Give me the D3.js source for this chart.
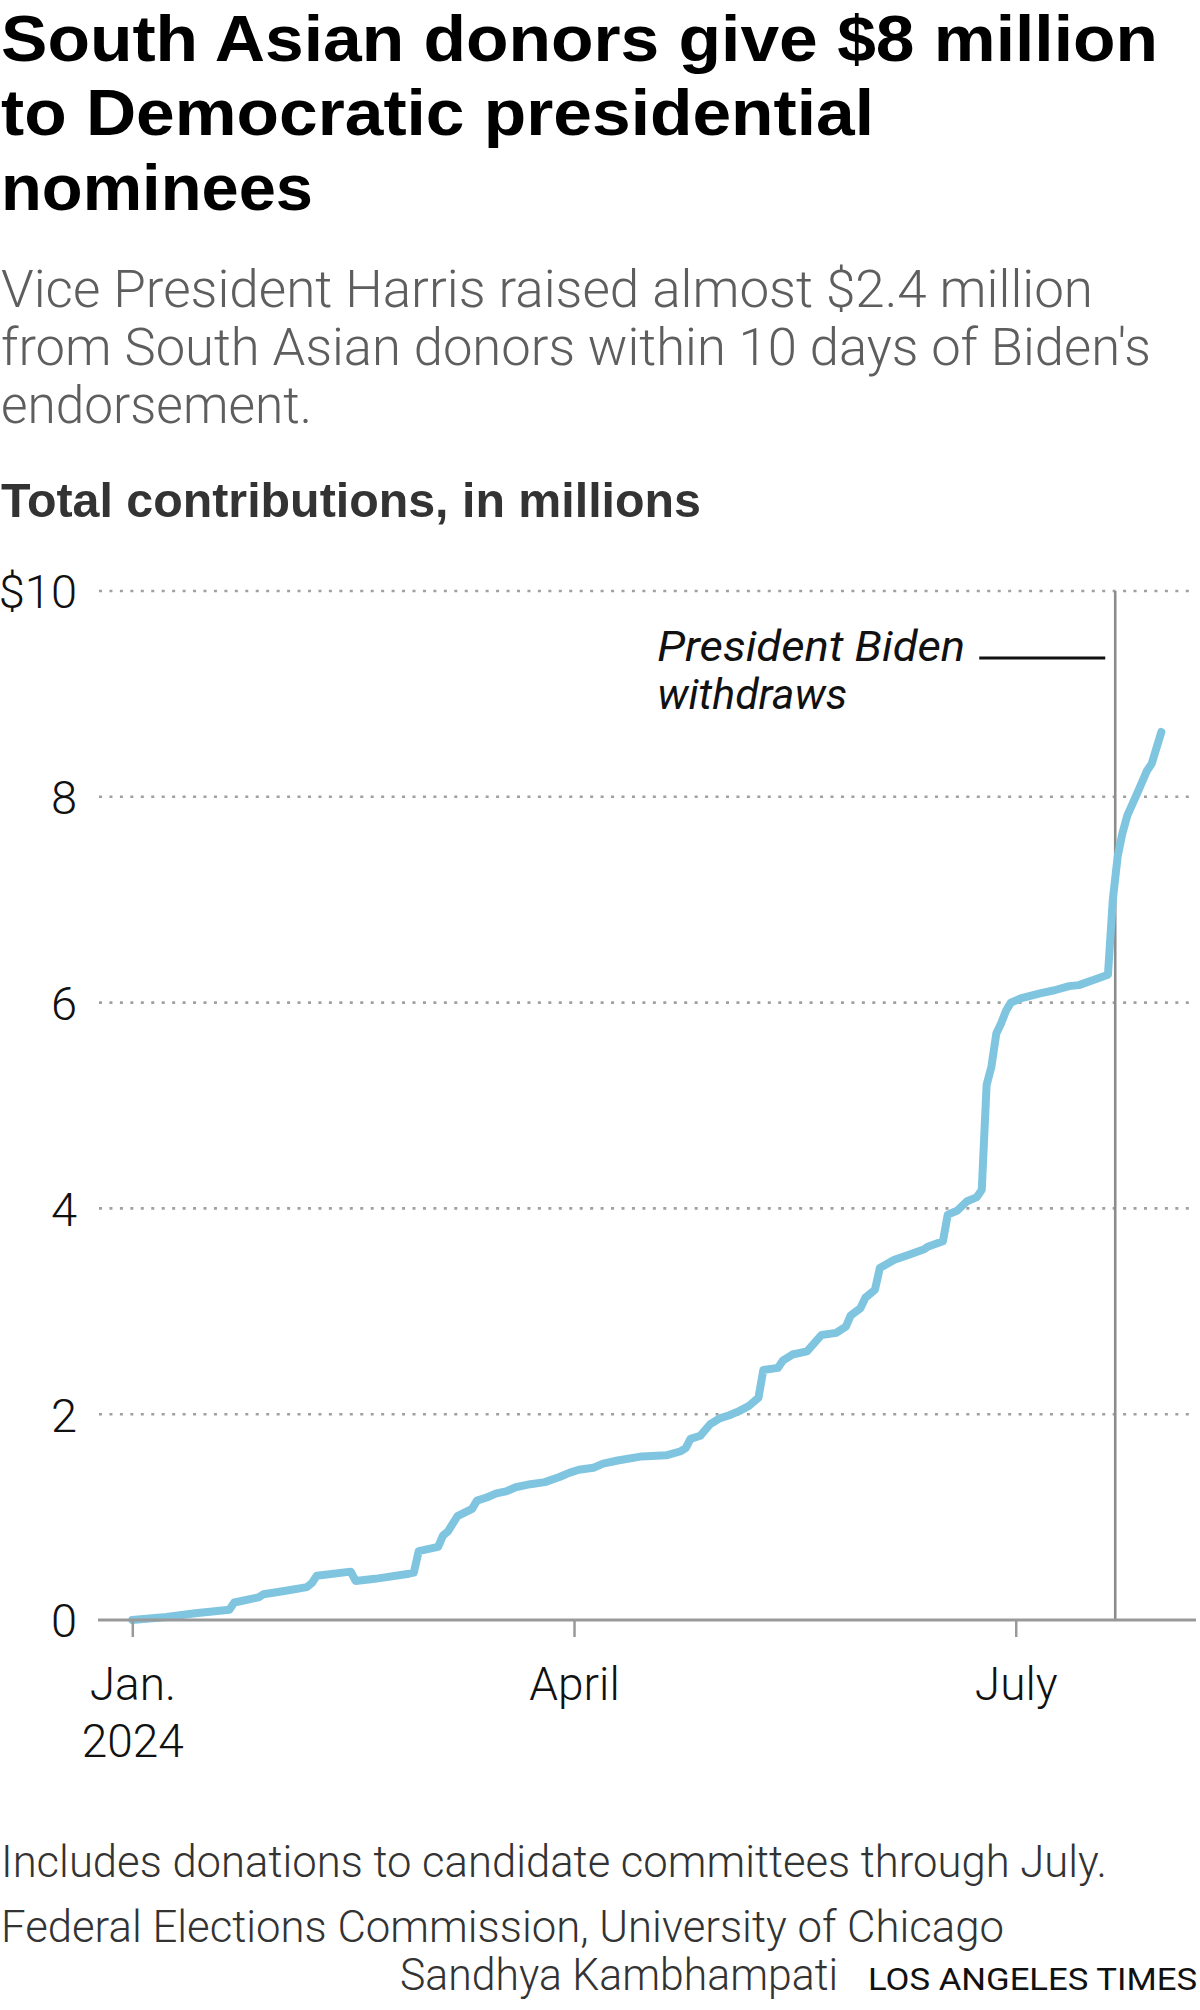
<!DOCTYPE html>
<html>
<head>
<meta charset="utf-8">
<script src="https://cdn.jsdelivr.net/npm/d3@7"></script>
<style>
  html, body { margin: 0; padding: 0; background: #fff; }
  svg { display: block; }
</style>
</head>
<body>
<svg id="chart" width="1200" height="2010"></svg>
<script>
// ---------------- DATA ----------------
const dates = [
  "2024-01-01","2024-01-08","2024-01-14","2024-01-21","2024-01-22","2024-01-23","2024-01-26","2024-01-27","2024-01-28",
  "2024-02-01","2024-02-06","2024-02-07","2024-02-08","2024-02-15","2024-02-16","2024-02-20","2024-02-27","2024-02-28","2024-02-29",
  "2024-03-04","2024-03-05","2024-03-06","2024-03-08","2024-03-11","2024-03-12","2024-03-14","2024-03-16","2024-03-18","2024-03-20",
  "2024-03-23","2024-03-26","2024-03-29","2024-03-31",
  "2024-04-02","2024-04-05","2024-04-07","2024-04-10","2024-04-15","2024-04-20","2024-04-23","2024-04-24","2024-04-25","2024-04-27","2024-04-29",
  "2024-05-01","2024-05-03","2024-05-05","2024-05-07","2024-05-09","2024-05-10","2024-05-13","2024-05-14","2024-05-16","2024-05-19",
  "2024-05-22","2024-05-25","2024-05-27","2024-05-28","2024-05-30","2024-05-31",
  "2024-06-02","2024-06-03","2024-06-06","2024-06-09","2024-06-12","2024-06-13","2024-06-16","2024-06-17","2024-06-19","2024-06-21",
  "2024-06-23","2024-06-24","2024-06-25","2024-06-26","2024-06-27","2024-06-28","2024-06-29","2024-06-30",
  "2024-07-02","2024-07-06","2024-07-09","2024-07-12","2024-07-14","2024-07-17","2024-07-20","2024-07-21","2024-07-22","2024-07-23",
  "2024-07-24","2024-07-26","2024-07-28","2024-07-29","2024-07-31"
];
const totals = [
  0, 0.03, 0.065, 0.10, 0.17, 0.18, 0.21, 0.22, 0.25,
  0.28, 0.32, 0.36, 0.43, 0.47, 0.38, 0.40, 0.45, 0.46, 0.67,
  0.71, 0.82, 0.86, 1.01, 1.08, 1.16, 1.19, 1.23, 1.25, 1.29,
  1.32, 1.34, 1.39, 1.43,
  1.46, 1.48, 1.52, 1.55, 1.59, 1.60, 1.64, 1.67, 1.76, 1.79, 1.90,
  1.96, 1.99, 2.03, 2.08, 2.16, 2.43, 2.45, 2.52, 2.58, 2.61,
  2.77, 2.79, 2.85, 2.96, 3.03, 3.13,
  3.21, 3.42, 3.50, 3.55, 3.60, 3.63, 3.68, 3.94, 3.98, 4.07,
  4.11, 4.18, 5.20, 5.38, 5.70, 5.80, 5.92, 6.00,
  6.04, 6.09, 6.12, 6.16, 6.17, 6.22, 6.27, 7.00, 7.42, 7.65,
  7.82, 8.03, 8.25, 8.32, 8.63
];
const yTicks = [0, 2, 4, 6, 8, 10];
const yTickLabels = ["0", "2", "4", "6", "8", "$10"];
const xTickDates = ["2024-01-01", "2024-04-01", "2024-07-01"];
const xTickLabels = [["Jan.", "2024"], ["April"], ["July"]];
const xDomain = ["2024-01-01", "2024-08-01"];
const yDomain = [0, 10];
const withdrawDate = "2024-07-21T12:00";
const withdrawValue = 9.35;
const annotationLines = ["President Biden", "withdraws"];

const titleLines = ["South Asian donors give $8 million", "to Democratic presidential", "nominees"];
const subtitleLines = ["Vice President Harris raised almost $2.4 million",
  "from South Asian donors within 10 days of Biden's", "endorsement."];
const axisTitle = "Total contributions, in millions";
const note = "Includes donations to candidate committees through July.";
const source = "Federal Elections Commission, University of Chicago";
const credit = "Sandhya Kambhampati";
const publisher = "LOS ANGELES TIMES";

// ---------------- DRAW ----------------
const parse = d3.utcParse("%Y-%m-%d");
const parseT = d3.utcParse("%Y-%m-%dT%H:%M");
const data = dates.map((d, i) => ({ date: parse(d), value: totals[i] }));

const svg = d3.select("#chart");
const left = 99, right = 1196;

const x = d3.scaleUtc().domain(xDomain.map(parse)).range([132.3, 1166.2]);
const y = d3.scaleLinear().domain(yDomain).range([1620, 591]);

function fitText(sel, w) {
  sel.attr("textLength", w).attr("lengthAdjust", "spacingAndGlyphs");
}

// Title
const titleWidths = [1157, 873, 312];
const titleBase = [61, 135, 210];
titleLines.forEach((t, i) => {
  svg.append("text").attr("x", 1).attr("y", titleBase[i])
    .attr("font-family", "'Liberation Sans', Arial, sans-serif")
    .attr("font-weight", 700).attr("font-size", 65).attr("fill", "#000")
    .text(t).call(fitText, titleWidths[i]);
});

// Subtitle
const subWidths = [1092, 1150, 311];
const subBase = [307, 365, 423];
subtitleLines.forEach((t, i) => {
  svg.append("text").attr("x", 1).attr("y", subBase[i])
    .attr("font-family", "Roboto, sans-serif")
    .attr("font-weight", 300).attr("font-size", 51).attr("fill", "#5e5e5e")
    .text(t).call(fitText, subWidths[i]);
});

// Axis title
svg.append("text").attr("x", 1).attr("y", 517)
  .attr("font-family", "'Liberation Sans', Arial, sans-serif")
  .attr("font-weight", 700).attr("font-size", 48).attr("fill", "#333")
  .text(axisTitle).call(fitText, 700);

// Gridlines (dotted)
svg.append("g").selectAll("line")
  .data(yTicks.filter(v => v > 0))
  .join("line")
  .attr("x1", left).attr("x2", right)
  .attr("y1", d => y(d)).attr("y2", d => y(d))
  .attr("stroke", "#a0a0a0").attr("stroke-width", 2.6)
  .attr("stroke-dasharray", "3 7.45");

// Y axis labels
const yAxis = d3.axisLeft(y).tickValues(yTicks).tickSize(0).tickPadding(0)
  .tickFormat((d, i) => yTickLabels[i]);
const gy = svg.append("g").attr("transform", "translate(77,0)").call(yAxis);
gy.select(".domain").remove();
gy.selectAll("text")
  .attr("font-family", "Roboto, sans-serif").attr("font-weight", 300)
  .attr("font-size", 47).attr("fill", "#111").attr("x", 0).attr("dy", "0.36em");

// Biden withdraw line
const wx = x(parseT(withdrawDate));
svg.append("line")
  .attr("x1", wx).attr("x2", wx).attr("y1", y(10)).attr("y2", y(0))
  .attr("stroke", "#8c8c8c").attr("stroke-width", 2.6);

// Annotation
const ay = y(withdrawValue);
svg.append("line")
  .attr("x1", wx - 136).attr("x2", wx - 10).attr("y1", ay).attr("y2", ay)
  .attr("stroke", "#111").attr("stroke-width", 3);
const annW = [308, 190];
annotationLines.forEach((t, i) => {
  svg.append("text").attr("x", wx - 458).attr("y", ay + 3 + i * 48)
    .attr("font-family", "Roboto, sans-serif").attr("font-style", "italic")
    .attr("font-weight", 400).attr("font-size", 42).attr("fill", "#111")
    .text(t).call(fitText, annW[i]);
});

// Line
const line = d3.line().x(d => x(d.date)).y(d => y(d.value)).curve(d3.curveLinear);
svg.append("path").datum(data)
  .attr("d", line)
  .attr("fill", "none").attr("stroke", "#80c5df").attr("stroke-width", 8)
  .attr("stroke-linejoin", "round").attr("stroke-linecap", "round");

// X axis
const xAxis = d3.axisBottom(x).tickValues(xTickDates.map(parse)).tickSize(17).tickFormat("");
const gx = svg.append("g").attr("transform", `translate(0,${y(0)})`).call(xAxis);
gx.select(".domain").remove();
gx.selectAll(".tick line").attr("stroke", "#999").attr("stroke-width", 2.5);
gx.selectAll(".tick text").remove();
gx.selectAll(".tick").each(function(d, i) {
  const t = d3.select(this).append("text")
    .attr("y", 80).attr("text-anchor", "middle")
    .attr("font-family", "Roboto, sans-serif").attr("font-weight", 300)
    .attr("font-size", 46).attr("fill", "#111");
  xTickLabels[i].forEach((s, j) => {
    t.append("tspan").attr("x", 0).attr("dy", j === 0 ? 0 : 57).text(s);
  });
});
svg.append("line")
  .attr("x1", left - 1).attr("x2", right).attr("y1", y(0)).attr("y2", y(0))
  .attr("stroke", "#999").attr("stroke-width", 3);

// Footer
svg.append("text").attr("x", 1).attr("y", 1877)
  .attr("font-family", "Roboto, sans-serif").attr("font-weight", 300)
  .attr("font-size", 44).attr("fill", "#333").text(note).call(fitText, 1106);
svg.append("text").attr("x", 1).attr("y", 1942)
  .attr("font-family", "Roboto, sans-serif").attr("font-weight", 300)
  .attr("font-size", 44).attr("fill", "#333").text(source).call(fitText, 1003);
svg.append("text").attr("x", 400).attr("y", 1990)
  .attr("font-family", "Roboto, sans-serif").attr("font-weight", 300)
  .attr("font-size", 44).attr("fill", "#333").text(credit).call(fitText, 438);
svg.append("text").attr("x", 868).attr("y", 1990)
  .attr("font-family", "Roboto, sans-serif").attr("font-weight", 400)
  .attr("font-size", 31).attr("fill", "#111").text(publisher).call(fitText, 329);
</script>
</body>
</html>
